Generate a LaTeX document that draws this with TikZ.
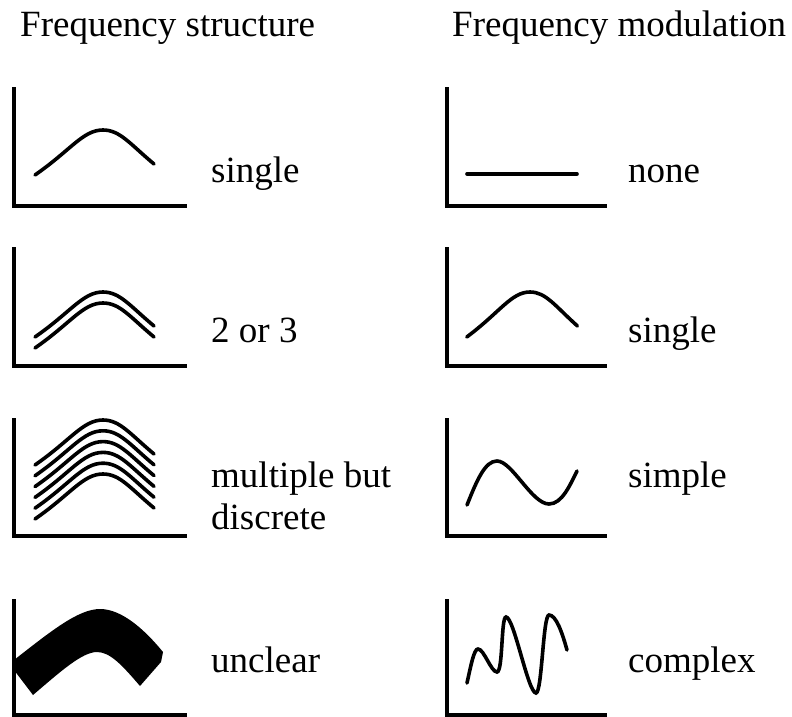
\documentclass[tikz,border=0pt]{standalone}
\usepackage{fontspec}
\setmainfont{Liberation Serif}
\usetikzlibrary{positioning}

\tikzset{
  axes/.style={line width=3.6pt},
  curve/.style={line width=3.6pt, line cap=round},
  lbl/.style={anchor=base west, inner sep=0pt, font=\fontsize{37}{42}\selectfont},
  arch/.pic={\draw[curve] (-68,45) .. controls (-32,20) and (-20,0) .. (0,0) .. controls (17,0) and (27,14) .. (51,34);}
}

\begin{document}
\begin{tikzpicture}[x=1pt, y=-1pt]
    \useasboundingbox (0,0) rectangle (792,717);

    % Headings
    \node[lbl] (hstruct) at (20,37) {Frequency structure};
    \node[lbl] (hmod) at (452,37) {Frequency modulation};

    % Axes of all panels
    \foreach \ya/\yb in {87/206, 247/366, 418/536, 599/715} {
        \draw[axes] (14,\ya) -- (14,\yb) -- (187,\yb);
        \draw[axes] (447,\ya) -- (447,\yb) -- (607,\yb);
    }

    % Frequency structure: single
    \pic at (103,130) {arch};
    \node[lbl] (fsingle) at (211,182) {single};

    % Frequency structure: 2 or 3
    \pic at (103,292) {arch};
    \pic at (103,303) {arch};
    \node[lbl] (ftwo) at (211,342) {2 or 3};

    % Frequency structure: multiple but discrete
    \foreach \k in {0,...,5}
        \pic at (103,420+10.8*\k) {arch};
    \node[lbl] (fmulti) at (211,487) {multiple but};
    \node[lbl] (fdiscrete) at (211,529) {discrete};

    % Frequency structure: unclear
    \fill (14,660) .. controls (50,632) and (78,609) .. (100,609)
        .. controls (122,609) and (145,630) .. (163,652)
        -- (161,662) -- (140,686)
        .. controls (122,665) and (110,652) .. (97,652)
        .. controls (82,652) and (60,672) .. (33,695)
        -- (14,670) -- cycle;
    \node[lbl] (funclear) at (211,672) {unclear};

    % Frequency modulation: none
    \draw[curve] (467,174) -- (577,174);
    \node[lbl] (mnone) at (628,182) {none};

    % Frequency modulation: single
    \pic[xscale=0.93] at (530,292) {arch};
    \node[lbl] (msingle) at (628,342) {single};

    % Frequency modulation: simple
    \draw[curve] (467,505) .. controls (477,480) and (485,461) .. (497,461)
        .. controls (512,461) and (532,504) .. (549,504)
        .. controls (562,504) and (570,485) .. (577,471);
    \node[lbl] (msimple) at (628,487) {simple};

    % Frequency modulation: complex
    \draw[curve] (467,683) .. controls (471,665) and (474,649) .. (478,649)
        .. controls (484,649) and (491,672) .. (497,672)
        .. controls (503,672) and (501,617) .. (506,617)
        .. controls (514,617) and (528,693) .. (536,693)
        .. controls (542,693) and (543,615) .. (549,615)
        .. controls (556,615) and (562,632) .. (567,650);
    \node[lbl] (mcomplex) at (628,672) {complex};
\end{tikzpicture}
\end{document}
